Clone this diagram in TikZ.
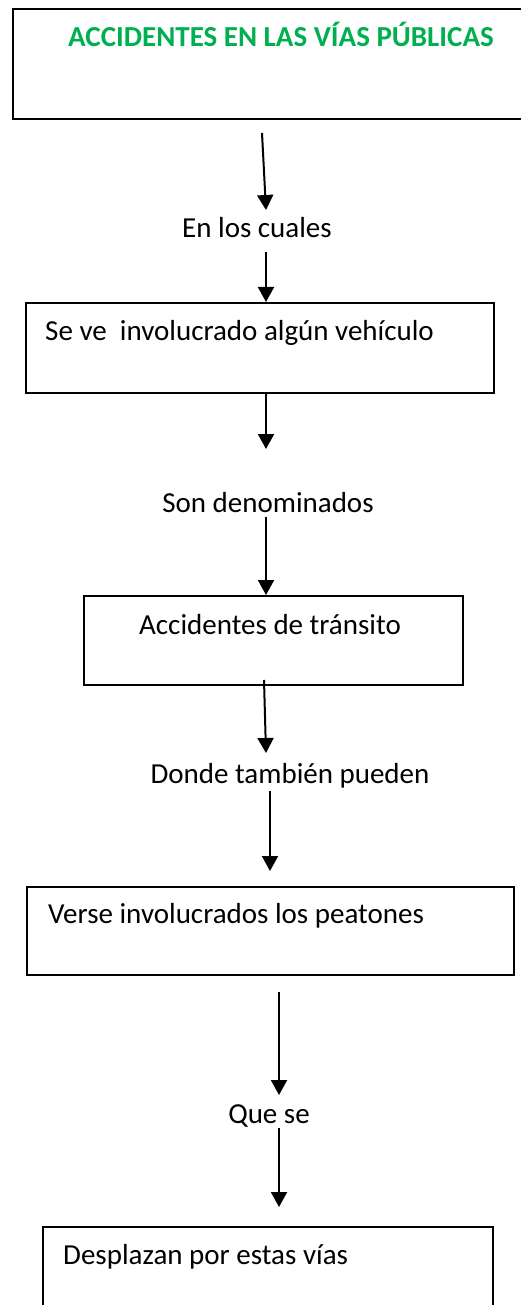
\documentclass[tikz,border=0pt]{standalone}
\usepackage{fontspec}
\setmainfont{Carlito}
\usetikzlibrary{arrows.meta}
\definecolor{titlegreen}{RGB}{0,176,80}
\begin{document}
\begin{tikzpicture}[x=1pt,y=1pt,
  box/.style={draw=black, line width=2pt, rectangle, inner sep=0pt, anchor=north west},
  lbl/.style={inner sep=0pt, anchor=base, font=\fontsize{29}{35}\selectfont},
  boxtext/.style={inner sep=0pt, anchor=base west, font=\fontsize{29}{35}\selectfont},
  arr/.style={line width=2pt, -{Triangle[width=16pt,length=15pt]}}]
\useasboundingbox (0,0) rectangle (520,-1305);
% boxes
\node[box, minimum width=560pt, minimum height=110pt] (b1) at (12,-8) {};
\node[box, minimum width=468pt, minimum height=90pt] (b2) at (25,-302) {};
\node[box, minimum width=379pt, minimum height=89pt] (b3) at (83,-595) {};
\node[box, minimum width=487pt, minimum height=88pt] (b4) at (26,-886) {};
\node[box, minimum width=450pt, minimum height=120pt] (b5) at (42,-1226) {};
% box texts
\node[inner sep=0pt, anchor=base, font=\fontsize{29}{35}\selectfont\bfseries, text=titlegreen] (t1) at (281,-47) {ACCIDENTES EN LAS VÍAS PÚBLICAS};
\node[boxtext] (t2) at (45,-340) {Se ve\ \ involucrado algún vehículo};
\node[lbl] (t3) at (270,-634) {Accidentes de tránsito};
\node[boxtext] (t4) at (48,-923) {Verse involucrados los peatones};
\node[boxtext] (t5) at (63,-1264) {Desplazan por estas vías};
% connector labels
\node[lbl] (l1) at (257,-238) {En los cuales};
\node[lbl] (l2) at (268,-512) {Son denominados};
\node[lbl] (l3) at (290,-783) {Donde también pueden};
\node[lbl] (l4) at (269,-1123) {Que se};
% arrow endpoints
\coordinate (a1s) at (262,-133);
\coordinate (a1e) at (266,-210);
\coordinate (a2s) at (266,-252);
\coordinate (a3e) at (266,-449);
\coordinate (a4s) at (266,-517);
\coordinate (a5s) at (264,-680);
\coordinate (a5e) at (266,-753);
\coordinate (a6s) at (270,-791);
\coordinate (a6e) at (270,-871);
\coordinate (a7s) at (279,-992);
\coordinate (a7e) at (279,-1095);
\coordinate (a8s) at (279,-1128);
\coordinate (a8e) at (279,-1207);
% arrows
\draw[arr] (a1s) -- (a1e);
\draw[arr] (a2s) -- (a2s |- b2.north);
\draw[arr] (a2s |- b2.south) -- (a3e);
\draw[arr] (a4s) -- (a4s |- b3.north);
\draw[arr] (a5s) -- (a5e);
\draw[arr] (a6s) -- (a6e);
\draw[arr] (a7s) -- (a7e);
\draw[arr] (a8s) -- (a8e);
\end{tikzpicture}
\end{document}
